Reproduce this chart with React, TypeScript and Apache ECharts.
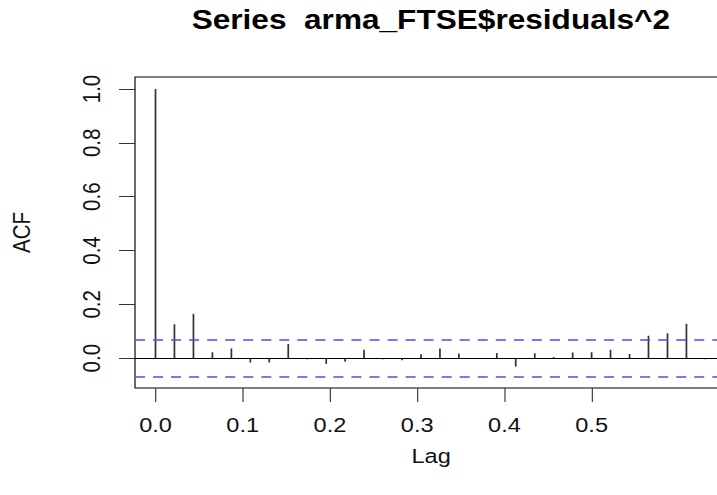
import React, { useEffect, useRef } from "react";
import * as echarts from "echarts";

// ---- data ----
const LAGS = [
  0, 0.0217, 0.0435, 0.0652, 0.087, 0.1087, 0.1304, 0.1522, 0.1739, 0.1957,
  0.2174, 0.2391, 0.2609, 0.2826, 0.3043, 0.3261, 0.3478, 0.3696, 0.3913, 0.413,
  0.4348, 0.4565, 0.4783, 0.5, 0.5217, 0.5435, 0.5652, 0.587, 0.6087, 0.6304,
];
const ACF_VALUES = [
  1.0, 0.126, 0.165, 0.022, 0.036, -0.016, -0.016, 0.053, -0.004, -0.021,
  -0.013, 0.031, -0.004, -0.008, 0.015, 0.036, 0.017, -0.003, 0.019, -0.031,
  0.018, 0.004, 0.021, 0.022, 0.031, 0.016, 0.083, 0.093, 0.128, -0.004,
];
const CONF_LIMIT = 0.068;
const X_TICKS = [0, 0.1, 0.2, 0.3, 0.4, 0.5];
const Y_TICKS = [0, 0.2, 0.4, 0.6, 0.8, 1.0];
const TITLE = "Series  arma_FTSE$residuals^2";
const X_NAME = "Lag";
const Y_NAME = "ACF";

const STRETCH = 717 / 624;
const FONT = "Liberation Sans, Arial, Helvetica, sans-serif";

export default function App() {
  const ref = useRef<HTMLDivElement>(null);

  useEffect(() => {
    if (!ref.current) return;
    const chart = echarts.init(ref.current, null, { renderer: "svg" });
    const points = LAGS.map((l, i) => [l, ACF_VALUES[i]]);
    const tickLabel = {
      fontSize: 20.5,
      fontFamily: FONT,
      color: "#111",
      formatter: (v: number) => Number(v).toFixed(1),
    };
    chart.setOption({
      animation: false,
      backgroundColor: "#fff",
      title: {
        text: TITLE,
        left: 370,
        top: 0,
        textAlign: "center",
        textStyle: {
          fontSize: 27.5,
          fontWeight: "bold",
          fontFamily: FONT,
          color: "#000",
        },
      },
      grid: {
        left: 117.5,
        right: 0,
        top: 77,
        bottom: 107,
        show: true,
        borderColor: "#000",
        borderWidth: 1,
        backgroundColor: "transparent",
        containLabel: false,
      },
      xAxis: {
        type: "value",
        min: -0.0235,
        max: 0.6556,
        name: X_NAME,
        nameLocation: "middle",
        nameGap: 58,
        nameTextStyle: { fontSize: 20.5, fontFamily: FONT, color: "#111" },
        axisLine: { show: false, onZero: false },
        splitLine: { show: false },
        axisTick: {
          show: true,
          length: 14,
          customValues: X_TICKS,
          lineStyle: { color: "#333", width: 1 },
        },
        axisLabel: { ...tickLabel, margin: 27, customValues: X_TICKS },
      },
      yAxis: {
        type: "value",
        min: -0.1107,
        max: 1.0446,
        name: Y_NAME,
        nameLocation: "middle",
        nameRotate: 90,
        nameGap: 88,
        nameTextStyle: { fontSize: 20.5, fontFamily: FONT, color: "#111" },
        axisLine: { show: false, onZero: false },
        splitLine: { show: false },
        axisTick: {
          show: true,
          length: 14,
          customValues: Y_TICKS,
          lineStyle: { color: "#333", width: 1 },
        },
        axisLabel: { ...tickLabel, rotate: 90, margin: 27, customValues: Y_TICKS },
      },
      series: [
        {
          type: "bar",
          data: points,
          barWidth: 1.5,
          itemStyle: { color: "#333" },
          markLine: {
            silent: true,
            symbol: "none",
            label: { show: false },
            emphasis: { disabled: true },
            data: [
              { yAxis: 0, lineStyle: { color: "#000", type: "solid", width: 1 } },
              { yAxis: CONF_LIMIT, lineStyle: { color: "#4a4aff", type: [8.7, 7], width: 1.5 } },
              { yAxis: -CONF_LIMIT, lineStyle: { color: "#4a4aff", type: [8.7, 7], width: 1.5 } },
            ],
          },
        },
      ],
    });
    return () => chart.dispose();
  }, []);

  return (
    <div
      ref={ref}
      style={{
        position: "fixed",
        left: 0,
        top: 0,
        width: 633,
        height: 495,
        transform: `scaleX(${STRETCH})`,
        transformOrigin: "0 0",
        background: "#fff",
      }}
    />
  );
}
